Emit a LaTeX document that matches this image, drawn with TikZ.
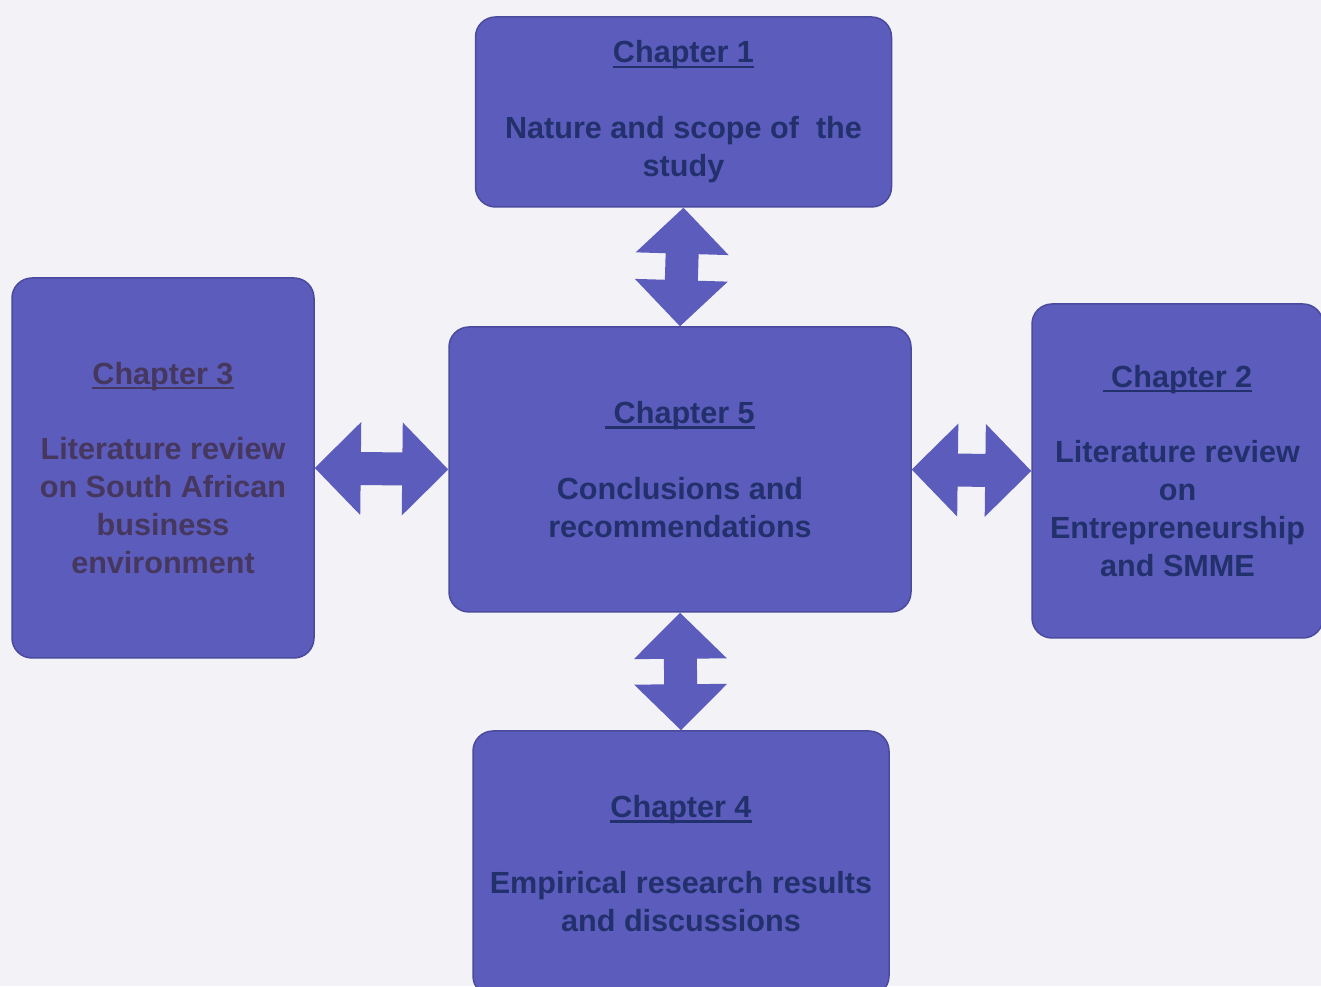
\documentclass[tikz,border=0pt]{standalone}
\usepackage{fontspec}
\setmainfont{Liberation Sans}
\usetikzlibrary{calc}
\definecolor{boxfill}{HTML}{5B5CBC}
\definecolor{boxline}{HTML}{4A4A9E}
\definecolor{chaptext}{HTML}{22306C}
\definecolor{chaptextb}{HTML}{45375E}
\definecolor{paper}{HTML}{F3F3F7}
\def\chapul#1{\setbox0\hbox{#1}\rlap{\lower0.17em\hbox{\vrule width\wd0 height 0.08em depth 0pt}}\box0}
\def\blockarrow(#1)(#2){\path ($(#1)!0.92cm!(#2)$) coordinate (h1) ($(#2)!0.92cm!(#1)$) coordinate (h2);
	\fill[boxfill] (#1) -- ($(h1)!0.93cm!90:(#2)$) -- ($(h1)!0.33cm!90:(#2)$) -- ($(h2)!0.33cm!-90:(#1)$) -- ($(h2)!0.93cm!-90:(#1)$) -- (#2) -- ($(h2)!0.93cm!90:(#1)$) -- ($(h2)!0.33cm!90:(#1)$) -- ($(h1)!0.33cm!-90:(#2)$) -- ($(h1)!0.93cm!-90:(#2)$) -- cycle;}

\begin{document}
\begin{tikzpicture}[chapbox/.style={draw=boxline, line width=0.3mm, fill=boxfill, rounded corners=0.4cm, inner sep=0pt, align=center, text=chaptext, font=\fontsize{17.4}{21.6}\selectfont\bfseries}]
			%%%%% START %%%%%
			
			\fill[paper] (0, 0) rectangle (26.42, 19.72);
			\useasboundingbox (0, 0) rectangle (26.42, 19.72);
			
			\node[chapbox, minimum width=8.32cm, minimum height=3.8cm] (ch1) at (13.67, 17.48) {\chapul{Chapter 1}\\[0.76cm]Nature and scope of\ \ the\\study};
			\node[chapbox, minimum width=9.24cm, minimum height=5.7cm] (ch5) at (13.60, 10.33) {\chapul{\ Chapter 5}\\[0.76cm]Conclusions and\\recommendations};
			
			\node[chapbox, text=chaptextb, minimum width=6.04cm, minimum height=7.6cm] (ch3) at (3.26, 10.36) {\chapul{Chapter 3}\\[0.76cm]Literature review\\on South African\\business\\environment};
			\node[chapbox, minimum width=5.82cm, minimum height=6.68cm] (ch2) at (23.55, 10.30) {\chapul{\ Chapter 2}\\[0.76cm]Literature review\\on\\Entrepreneurship\\and SMME};
			
			\node[chapbox, minimum width=8.32cm, minimum height=5.3cm] (ch4) at (13.62, 2.45) {\chapul{Chapter 4}\\[0.76cm]Empirical research results\\and discussions};
			
			\blockarrow(ch1.south)(ch5.north)
			\blockarrow(ch5.south)(ch4.north)
			\blockarrow(ch3.east)(ch5.west)
			\blockarrow(ch5.east)(ch2.west)
			
			%%%%% END %%%%%
		\end{tikzpicture}
\end{document}
